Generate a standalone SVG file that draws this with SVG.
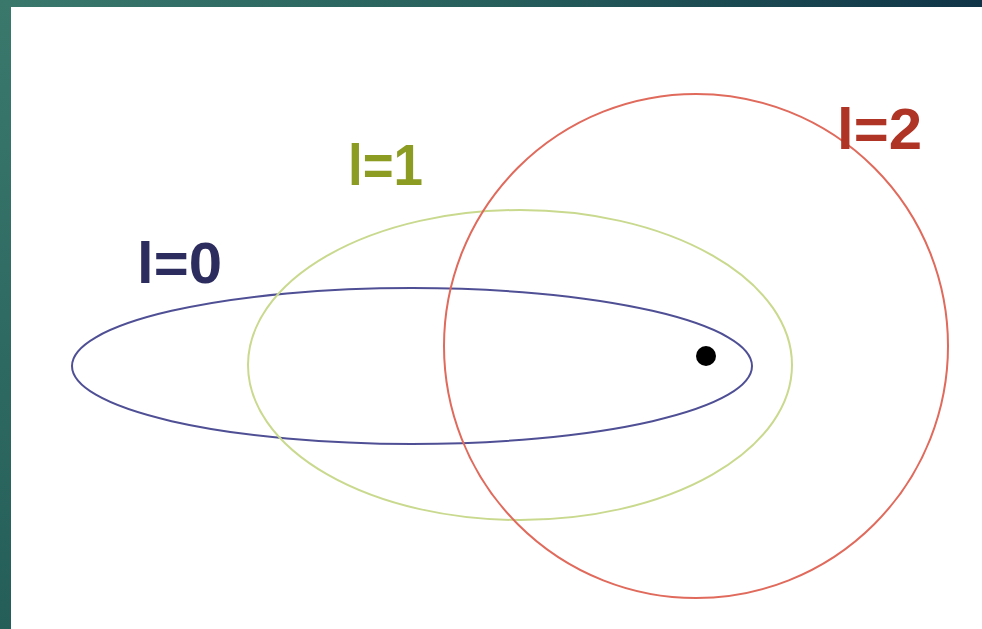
<svg xmlns="http://www.w3.org/2000/svg" width="982" height="629" viewBox="0 0 982 629">
<defs>
<linearGradient id="top" x1="0" y1="0" x2="1" y2="0">
<stop offset="0" stop-color="#3a786c"/>
<stop offset="0.5" stop-color="#275f5c"/>
<stop offset="1" stop-color="#0f3447"/>
</linearGradient>
<linearGradient id="left" x1="0" y1="0" x2="0" y2="1">
<stop offset="0" stop-color="#3a786c"/>
<stop offset="1" stop-color="#255e59"/>
</linearGradient>
</defs>
<style>
.orb{fill:none;stroke-width:2}
.lbl{font-family:"Liberation Sans",Arial,sans-serif;font-weight:bold;font-size:58px}
</style>
<rect width="982" height="629" fill="#ffffff"/>
<rect x="0" y="0" width="982" height="7" fill="url(#top)"/>
<rect x="0" y="0" width="11" height="629" fill="url(#left)"/>
<g id="orbit-l0">
<ellipse class="orb" cx="412" cy="366" rx="340" ry="78" stroke="#4f4f95"/>
<text class="lbl" x="137" y="283" fill="#2c2c5e" textLength="85" lengthAdjust="spacingAndGlyphs">l=0</text>
</g>
<g id="orbit-l1">
<ellipse class="orb" cx="520" cy="365" rx="272" ry="155" stroke="#c9d98e"/>
<text class="lbl" x="348" y="185" fill="#8c9c22" textLength="75" lengthAdjust="spacingAndGlyphs">l=1</text>
</g>
<g id="orbit-l2">
<circle class="orb" cx="696" cy="346" r="252" stroke="#e06a5c"/>
<text class="lbl" x="837" y="149" fill="#b03425" textLength="85" lengthAdjust="spacingAndGlyphs">l=2</text>
</g>
<g id="nucleus">
<circle cx="706" cy="356" r="10" fill="#000000"/>
</g>
</svg>
